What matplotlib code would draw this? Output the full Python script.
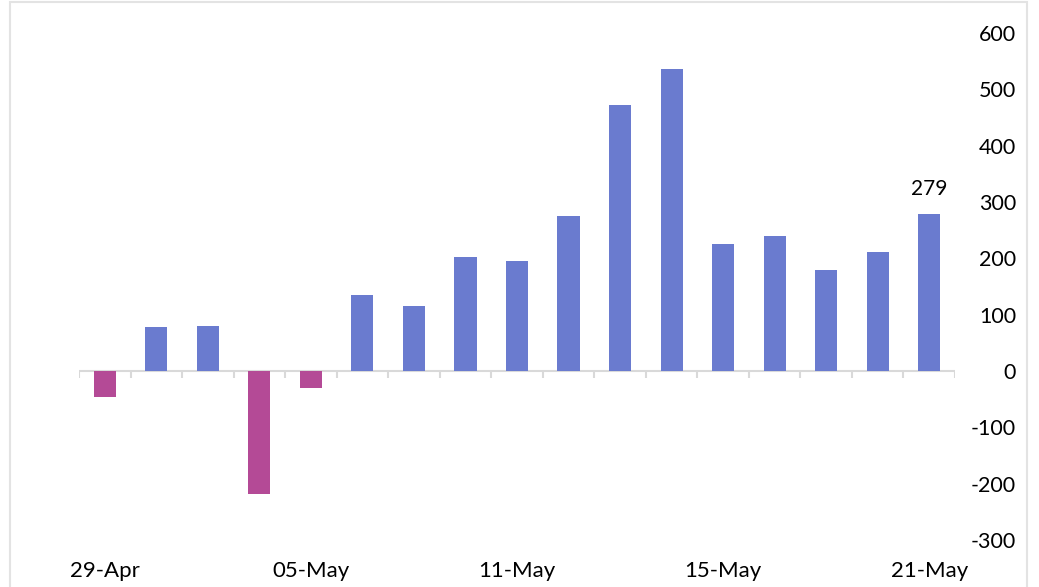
import numpy as np
import matplotlib.pyplot as plt
from matplotlib.patches import Rectangle

# Daily values (trading days)
dates = ['29-Apr', '30-Apr', '01-May', '04-May', '05-May', '06-May', '07-May', '08-May',
         '11-May', '12-May', '13-May', '14-May', '15-May', '18-May', '19-May', '20-May', '21-May']
values = [-46, 78, 80, -218, -30, 135, 115, 202, 195, 275, 472, 536, 225, 240, 179, 211, 279]
shown_labels = ['29-Apr', '05-May', '11-May', '15-May', '21-May']

blue = '#6A7BCF'
magenta = '#B44A96'

plt.rcParams['font.family'] = ['Lato', 'DejaVu Sans']
plt.rcParams['axes.unicode_minus'] = False

fig = plt.figure(figsize=(10.39, 5.87), dpi=100)
ax = fig.add_axes([79 / 1039, 1 - 540 / 587, (955 - 79) / 1039, (540 - 33) / 587])

x = np.arange(len(values))
colors = [blue if v >= 0 else magenta for v in values]
ax.bar(x, values, width=0.43, color=colors, zorder=3)

# zero line with ticks between categories
ax.axhline(0, color='#D9D9D9', lw=1.5, zorder=2)
bounds = np.arange(len(values) + 1) - 0.5
ax.vlines(bounds, -12, 0, color='#D9D9D9', lw=1.5, zorder=2)

# label on last bar
ax.annotate(str(values[-1]), (x[-1], values[-1]), xytext=(0, 11), textcoords='offset points',
            ha='center', va='bottom', fontsize=15)

ax.set_xlim(-0.5, len(values) - 0.5)
ax.set_ylim(-300, 600)
ax.set_yticks(np.arange(-300, 601, 100))
ax.yaxis.tick_right()
ax.tick_params(axis='y', length=0, labelsize=15.5, pad=44)
for lbl in ax.get_yticklabels():
    lbl.set_horizontalalignment('right')

ax.set_xticks([dates.index(d) for d in shown_labels])
ax.set_xticklabels(shown_labels)
ax.tick_params(axis='x', length=0, labelsize=16, pad=15)

for s in ax.spines.values():
    s.set_visible(False)

# light frame around chart
fig.patches.append(Rectangle((10 / 1039, -0.01), (1027 - 10) / 1039, 1 - 2 / 587 + 0.01,
                             transform=fig.transFigure, fill=False, edgecolor='#E3E3E3', lw=1.5))

fig.savefig('out.png', dpi=100)
